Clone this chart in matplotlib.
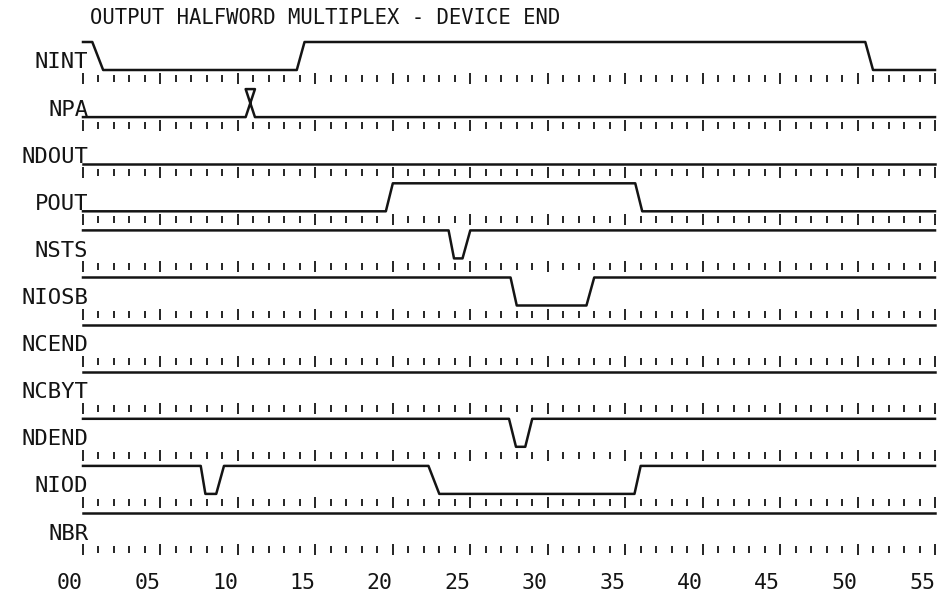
import matplotlib
matplotlib.use('Agg')
import matplotlib.pyplot as plt
import numpy as np

# timing diagram: output halfword multiplex - device end
title = 'OUTPUT HALFWORD MULTIPLEX - DEVICE END'
signals = ['NINT', 'NPA', 'NDOUT', 'POUT', 'NSTS', 'NIOSB',
           'NCEND', 'NCBYT', 'NDEND', 'NIOD', 'NBR']

# breakpoints in time units, level 1 = high, 0 = low
nint_t = [0, 0.6, 1.3, 13.8, 14.3, 50.5, 51.0, 55]
nint_v = [1, 1, 0, 0, 1, 1, 0, 0]
npa_t = [0, 10.5, 11.1, 10.5, 11.1, 55]
npa_v = [0, 0, 1, 1, 0, 0]
ndout_t = [0, 55]
ndout_v = [0, 0]
pout_t = [0, 19.55, 20.0, 35.65, 36.1, 55]
pout_v = [0, 0, 1, 1, 0, 0]
nsts_t = [0, 23.6, 23.95, 24.5, 25.0, 55]
nsts_v = [1, 1, 0, 0, 1, 1]
niosb_t = [0, 27.6, 28.0, 32.5, 33.0, 55]
niosb_v = [1, 1, 0, 0, 1, 1]
ncend_t = [0, 55]
ncend_v = [1, 1]
ncbyt_t = [0, 55]
ncbyt_v = [1, 1]
ndend_t = [0, 27.5, 27.95, 28.55, 29.0, 55]
ndend_v = [1, 1, 0, 0, 1, 1]
niod_t = [0, 7.6, 7.9, 8.6, 9.1, 22.3, 23.0, 35.6, 36.0, 55]
niod_v = [1, 1, 0, 0, 1, 1, 0, 0, 1, 1]
nbr_t = [0, 55]
nbr_v = [1, 1]

times = [nint_t, npa_t, ndout_t, pout_t, nsts_t, niosb_t,
         ncend_t, ncbyt_t, ndend_t, niod_t, nbr_t]
levels = [nint_v, npa_v, ndout_v, pout_v, nsts_v, niosb_v,
          ncend_v, ncbyt_v, ndend_v, niod_v, nbr_v]

t_end = 55
tick_labels = ['%02d' % v for v in range(0, t_end + 1, 5)]

# layout (y axis runs in pixels, top down)
first_base = 70
pitch = 47.1
amp = 28
ink = '#141414'
font = 'DejaVu Sans Mono'

fig = plt.figure(figsize=(9.4, 6), dpi=100)
ax = fig.add_axes([0, 0, 1, 1])
ax.set_xlim(-83 / 15.49, t_end + 5 / 15.49)
ax.set_ylim(600, 0)
ax.axis('off')

for i, name in enumerate(signals):
    base = first_base + i * pitch
    y = [base - amp * v for v in levels[i]]
    ax.plot(times[i], y, color=ink, lw=1.8, solid_joinstyle='round')
    ax.text(0.35, base - 1.5, name, ha='right', va='baseline',
            fontsize=16, family=font, color=ink)

    t = np.arange(0, t_end + 1)
    major = t % 5 == 0
    ax.vlines(t[~major], base + 5, base + 12, color=ink, lw=1.3)
    ax.vlines(t[major], base + 3, base + 14, color=ink, lw=1.3)

for v, lab in zip(range(0, t_end + 1, 5), tick_labels):
    ax.text(v, 583, lab, ha='right', va='center', fontsize=15.5,
            family=font, color=ink)

ax.text(0.45, 18, title, ha='left', va='center', fontsize=14.8,
        family=font, color=ink)

fig.savefig('out.png', dpi=100, facecolor='white')
